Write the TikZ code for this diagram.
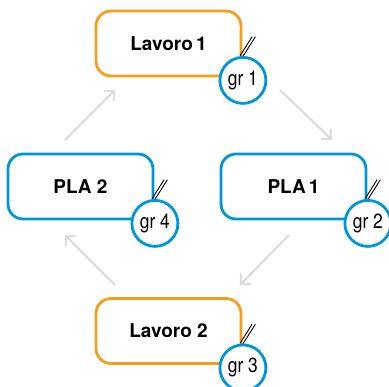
\documentclass[tikz,border=0pt]{standalone}
\usepackage{fontspec}
\setmainfont{TeX Gyre Heros}
\usetikzlibrary{arrows.meta,calc}
\definecolor{orangeC}{RGB}{245,158,30}
\definecolor{blueC}{RGB}{0,150,214}
\definecolor{grayC}{RGB}{220,220,220}
\tikzset{
  taskbox/.style={draw=#1, line width=2.8pt, rounded corners=15pt, minimum width=145pt, minimum height=65pt, fill=white, font=\fontsize{19}{22}\selectfont\bfseries, inner sep=0pt},
  grcircle/.style={draw=blueC, line width=2.8pt, circle, minimum size=46pt, fill=white, inner sep=0pt, font=\fontsize{20.5}{24}\selectfont},
  flowarrow/.style={draw=grayC, line width=2.2pt, -{Straight Barb[length=7pt,width=14pt,line width=2.2pt]}},
  slashline/.style={draw=black, line width=0.9pt}
}
\newcommand{\grlabel}[1]{\scalebox{0.85}[1]{gr #1}}
\begin{document}
\begin{tikzpicture}[x=1pt,y=1pt]
\useasboundingbox (0,0) rectangle (389,387);
% boxes
\node[taskbox=orangeC] (l1) at (168.5,343.5) {Lavoro\,1};
\node[taskbox=blueC] (p2) at (80.5,200.5) {PLA 2};
\node[taskbox=blueC] (p1) at (293.5,200.5) {PLA\,1};
\node[taskbox=orangeC] (l2) at (168.5,56) {Lavoro 2};
% slashes
\foreach \b in {l1,p2,p1,l2}{
  \draw[slashline] ($(\b.south east)+(-2.3,-3)+(0,24.7)$) -- ++(12,19);
  \draw[slashline] ($(\b.south east)+(0.3,-3)+(0,23.7)$) -- ++(12.7,20);
}
% circles
\node[grcircle] (g1) at ($(l1.south east)+(0.5,-3)$) {\grlabel{1}};
\node[grcircle] (g4) at ($(p2.south east)+(0.5,-3)$) {\grlabel{4}};
\node[grcircle] (g2) at ($(p1.south east)+(0.5,-3)$) {\grlabel{2}};
\node[grcircle] (g3) at ($(l2.south east)+(0.5,-3)$) {\grlabel{3}};
% arrows
\coordinate (a1s) at (65,247); \coordinate (a1e) at (115,297);
\coordinate (a2s) at (280,297); \coordinate (a2e) at (332,247);
\coordinate (a3s) at (289,152); \coordinate (a3e) at (240,102);
\coordinate (a4s) at (115,102); \coordinate (a4e) at (65,152);
\draw[flowarrow] (a1s) -- (a1e);
\draw[flowarrow] (a2s) -- (a2e);
\draw[flowarrow] (a3s) -- (a3e);
\draw[flowarrow] (a4s) -- (a4e);
\end{tikzpicture}
\end{document}
